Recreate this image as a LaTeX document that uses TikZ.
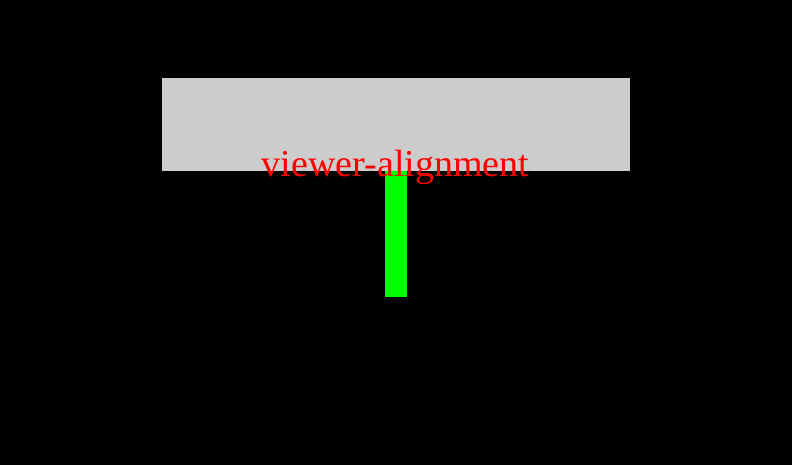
\documentclass[tikz,border=0pt]{standalone}
\usepackage{fontspec}
\setmainfont{Liberation Serif}
\usetikzlibrary{positioning}

\begin{document}
\begin{tikzpicture}[x=1pt, y=-1pt,
    panel/.style={fill={rgb,255:red,204;green,204;blue,204}, draw=none, inner sep=0pt, anchor=north west},
    bar/.style={fill={rgb,255:red,0;green,255;blue,0}, draw=none, inner sep=0pt, anchor=north west},
    caption/.style={text=red, font=\fontsize{38}{40}\selectfont, inner sep=0pt, anchor=base}]
    % Background
    \fill[black] (0,0) rectangle (792,465);
    \useasboundingbox (0,0) rectangle (792,465);
    % Gray panel
    \node[panel, minimum width=468pt, minimum height=93pt] (viewer) at (162,78) {};
    % Green bar under the panel
    \node[bar, minimum width=22pt, minimum height=126pt] (align) at (385,171) {};
    % Label
    \node[caption] (label) at (395.5,177) {viewer-alignment};
\end{tikzpicture}
\end{document}
